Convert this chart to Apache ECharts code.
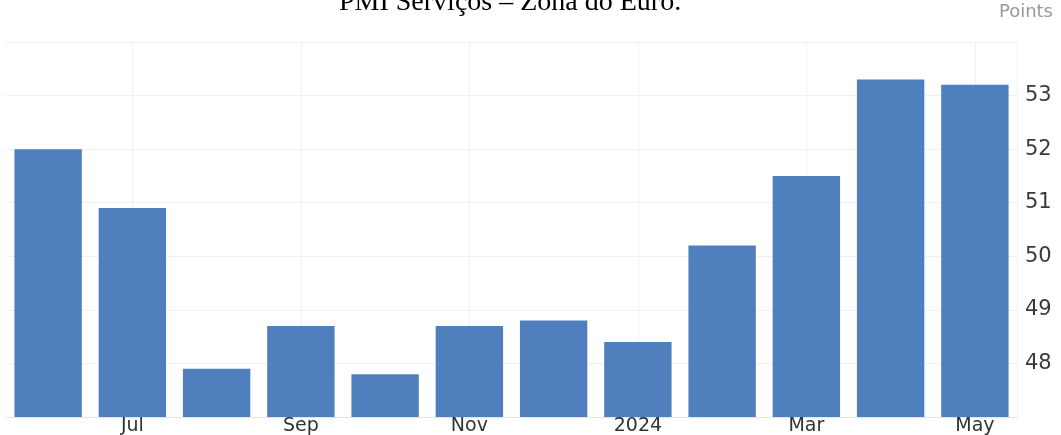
<!DOCTYPE html>
<html>
<head>
<meta charset="utf-8">
<script src="https://cdn.jsdelivr.net/npm/echarts@6/dist/echarts.min.js"></script>
<style>
html,body{margin:0;padding:0;background:#fff;}
#chart{width:1061px;height:435px;}
</style>
</head>
<body>
<div id="chart"></div>
<script>
const categories = ['Jun', 'Jul', 'Aug', 'Sep', 'Oct', 'Nov', 'Dec', '2024', 'Feb', 'Mar', 'Apr', 'May'];
const values = [52.0, 50.9, 47.9, 48.7, 47.8, 48.7, 48.8, 48.4, 50.2, 51.5, 53.3, 53.2];
const titleText = 'PMI Serviços – Zona do Euro.';
const unitText = 'Points';

const chart = echarts.init(document.getElementById('chart'), null, {renderer: 'canvas'});
const showEveryOther = function (idx) { return idx % 2 === 1; };
chart.setOption({
  animation: false,
  backgroundColor: '#ffffff',
  title: [
    {
      text: titleText,
      left: 339,
      top: -11,
      padding: 0,
      textStyle: {fontFamily: 'Liberation Serif', fontSize: 28, fontWeight: 'normal', color: '#000'}
    },
    {
      text: unitText,
      right: 8,
      top: 3,
      padding: 0,
      textStyle: {fontFamily: 'DejaVu Sans', fontSize: 18, fontWeight: 'normal', color: '#999999'}
    }
  ],
  grid: {left: 6, right: 44, top: 42, bottom: 18, containLabel: false, outerBoundsMode: 'none'},
  xAxis: {
    type: 'category',
    data: categories,
    boundaryGap: true,
    axisLine: {show: true, lineStyle: {color: '#e4e4e4', width: 1}},
    axisTick: {show: false},
    axisLabel: {
      interval: showEveryOther,
      margin: 0,
      fontFamily: 'DejaVu Sans',
      fontSize: 19,
      color: '#333'
    },
    splitLine: {show: true, interval: showEveryOther, alignWithLabel: true, lineStyle: {color: '#f1f1f1', width: 1}}
  },
  yAxis: {
    type: 'value',
    position: 'right',
    min: 47,
    max: 54,
    interval: 1,
    axisLine: {show: true, lineStyle: {color: '#f1f1f1'}},
    axisTick: {show: false},
    axisLabel: {
      showMinLabel: false,
      showMaxLabel: false,
      margin: 8,
      fontFamily: 'DejaVu Sans',
      fontSize: 21,
      color: '#3a3a3a'
    },
    splitLine: {show: true, lineStyle: {color: '#f1f1f1', width: 1}}
  },
  series: [{
    type: 'bar',
    data: values,
    barCategoryGap: '20%',
    itemStyle: {color: '#4f80bd'}
  }]
});
</script>
</body>
</html>
